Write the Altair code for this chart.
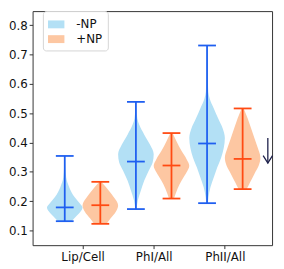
import altair as alt
import pandas as pd

categories = ["Lip/Cell", "PhI/All", "PhII/All"]
series = ["-NP", "+NP"]
positions = [1, 2, 3]
offsets = [-0.25, 0.25]

# Summary lines (per category)
minus_min = [0.1315, 0.1728, 0.193]
minus_max = [0.354, 0.5384, 0.7307]
minus_median = [0.1785, 0.3348, 0.3965]
plus_min = [0.1225, 0.2087, 0.2409]
plus_max = [0.2657, 0.432, 0.516]
plus_median = [0.186, 0.3214, 0.3439]

# Violin outlines: value along y, relative half-width (1 = widest)
lip_minus_y = [0.1315, 0.147, 0.1637, 0.1785, 0.192, 0.214, 0.2476, 0.281, 0.3147, 0.354]
lip_minus_w = [0.38, 0.62, 0.88, 1.0, 0.85, 0.55, 0.25, 0.08, 0.04, 0.02]
lip_plus_y = [0.1225, 0.1415, 0.1637, 0.186, 0.214, 0.2365, 0.259, 0.2657]
lip_plus_w = [0.35, 0.58, 0.87, 1.0, 0.75, 0.47, 0.15, 0.06]
ph1_minus_y = [0.1728, 0.203, 0.2365, 0.27, 0.3036, 0.3315, 0.36, 0.393, 0.4267, 0.46, 0.482, 0.51, 0.5384]
ph1_minus_w = [0.04, 0.11, 0.28, 0.47, 0.72, 0.94, 1.0, 0.79, 0.47, 0.19, 0.08, 0.04, 0.02]
ph1_plus_y = [0.2087, 0.242, 0.27, 0.298, 0.3204, 0.343, 0.3707, 0.404, 0.432]
ph1_plus_w = [0.14, 0.34, 0.57, 0.85, 1.0, 0.85, 0.57, 0.28, 0.06]
ph2_minus_y = [0.193, 0.214, 0.2476, 0.281, 0.3147, 0.348, 0.3818, 0.4153, 0.449, 0.4824, 0.516, 0.5495, 0.572, 0.62, 0.68, 0.7307]
ph2_minus_w = [0.05, 0.08, 0.19, 0.38, 0.57, 0.79, 0.94, 1.0, 0.87, 0.62, 0.38, 0.15, 0.07, 0.04, 0.03, 0.02]
ph2_plus_y = [0.241, 0.2644, 0.2926, 0.3204, 0.348, 0.3818, 0.4153, 0.449, 0.4824, 0.516]
ph2_plus_w = [0.23, 0.42, 0.66, 0.9, 1.0, 0.85, 0.66, 0.47, 0.28, 0.06]

# Arrow annotation (data coordinates)
arrow_x = 3.604
arrow_top = 0.4153
arrow_tip = 0.3295

fill_colors = ["#b3e0f5", "#fdc7a2"]
line_colors = ["#1f5ff0", "#ff4a12"]

profiles = [
    (0, 0, lip_minus_y, lip_minus_w), (0, 1, lip_plus_y, lip_plus_w),
    (1, 0, ph1_minus_y, ph1_minus_w), (1, 1, ph1_plus_y, ph1_plus_w),
    (2, 0, ph2_minus_y, ph2_minus_w), (2, 1, ph2_plus_y, ph2_plus_w),
]
rows = []
for ci, si, ys, ws in profiles:
    for y, w in zip(ys, ws):
        rows.append({"violin": f"{ci}-{si}", "center": positions[ci] + offsets[si],
                     "series": series[si], "value": y, "w": w})
shape_df = pd.DataFrame(rows)

stat_rows = []
for ci in range(3):
    for si, (mn, mx, md) in enumerate([(minus_min, minus_max, minus_median),
                                       (plus_min, plus_max, plus_median)]):
        stat_rows.append({"center": positions[ci] + offsets[si], "series": series[si],
                          "min": mn[ci], "max": mx[ci], "median": md[ci]})
stat_df = pd.DataFrame(stat_rows)

arrow_df = pd.DataFrame({"x": [arrow_x], "top": [arrow_top], "tip": [arrow_tip]})

label_expr = "[" + ",".join(f"'{c}'" for c in categories) + "][datum.value - 1]"

xscale = alt.Scale(domain=[0.298, 3.6635], nice=False, zero=False)
yscale = alt.Scale(domain=[0.0497, 0.848], nice=False, zero=False)
xaxis = alt.Axis(values=positions, labelExpr=label_expr, title=None, grid=False,
                 domain=False, tickSize=3.5, labelPadding=3, labelOverlap=False)
yaxis = alt.Axis(values=[0.1, 0.2, 0.3, 0.4, 0.5, 0.6, 0.7, 0.8], format=".1f",
                 title=None, grid=False, domain=False, tickSize=3.5, labelPadding=2,
                 labelOverlap=False)

fill_scale = alt.Scale(domain=series, range=fill_colors)
stroke_scale = alt.Scale(domain=series, range=line_colors)

violins = alt.Chart(shape_df).transform_calculate(
    x1="datum.center - 0.25 * datum.w",
    x2="datum.center + 0.25 * datum.w",
).mark_area(orient="horizontal", interpolate="monotone").encode(
    y=alt.Y("value:Q", scale=yscale, axis=yaxis),
    x=alt.X("x1:Q", scale=xscale, axis=xaxis, stack=None),
    x2="x2:Q",
    detail="violin:N",
    fill=alt.Fill("series:N", scale=fill_scale, sort=series, legend=alt.Legend(
        title=None, orient="none", legendX=10.5, legendY=0,
        symbolType="M-1,-0.48H1V0.48H-1Z", symbolSize=279, symbolStrokeWidth=0,
        symbolOpacity=1, labelFontSize=12, labelFont="DejaVu Sans", labelColor="#111",
        labelAlign="left", padding=5, labelOffset=12, rowPadding=0,
        strokeColor="#d5d5d5", fillColor="white", cornerRadius=3)),
)

vlines = alt.Chart(stat_df).mark_rule(strokeWidth=1.8).encode(
    x=alt.X("center:Q", scale=xscale, axis=xaxis),
    y=alt.Y("min:Q", scale=yscale, axis=yaxis),
    y2="max:Q",
    stroke=alt.Stroke("series:N", scale=stroke_scale, legend=None),
)

caps = alt.Chart(stat_df).transform_fold(
    ["min", "max", "median"], as_=["stat", "v"]
).transform_calculate(
    cx1="datum.center - 0.125", cx2="datum.center + 0.125"
).mark_rule(strokeWidth=1.8).encode(
    x=alt.X("cx1:Q", scale=xscale, axis=xaxis),
    x2="cx2:Q",
    y=alt.Y("v:Q", scale=yscale, axis=yaxis),
    stroke=alt.Stroke("series:N", scale=stroke_scale, legend=None),
)

arrow_line = alt.Chart(arrow_df).mark_rule(color="#1c1f4a", strokeWidth=1.3).encode(
    x=alt.X("x:Q", scale=xscale, axis=xaxis),
    y=alt.Y("top:Q", scale=yscale, axis=yaxis), y2="tip:Q")
arrow_head = alt.Chart(arrow_df).mark_point(
    shape="M-1,-1.6L0,0L1,-1.6", filled=False, size=90, color="#1c1f4a",
    strokeWidth=1.3, opacity=1).encode(
    x=alt.X("x:Q", scale=xscale, axis=xaxis),
    y=alt.Y("tip:Q", scale=yscale, axis=yaxis))

chart = alt.layer(violins, vlines, caps, arrow_line, arrow_head).resolve_scale(
    fill="independent", stroke="independent"
).properties(
    width=243.5, height=238, padding={"left": 0, "top": 0, "right": 0, "bottom": 0}
).configure_view(stroke="#333", strokeWidth=1).configure_axis(
    labelFont="DejaVu Sans", labelFontSize=12, labelColor="#111",
    tickColor="#333", tickWidth=1, labelOverlap=False,
)

chart.save("out.html", embed_options={"renderer": "svg", "actions": False})
